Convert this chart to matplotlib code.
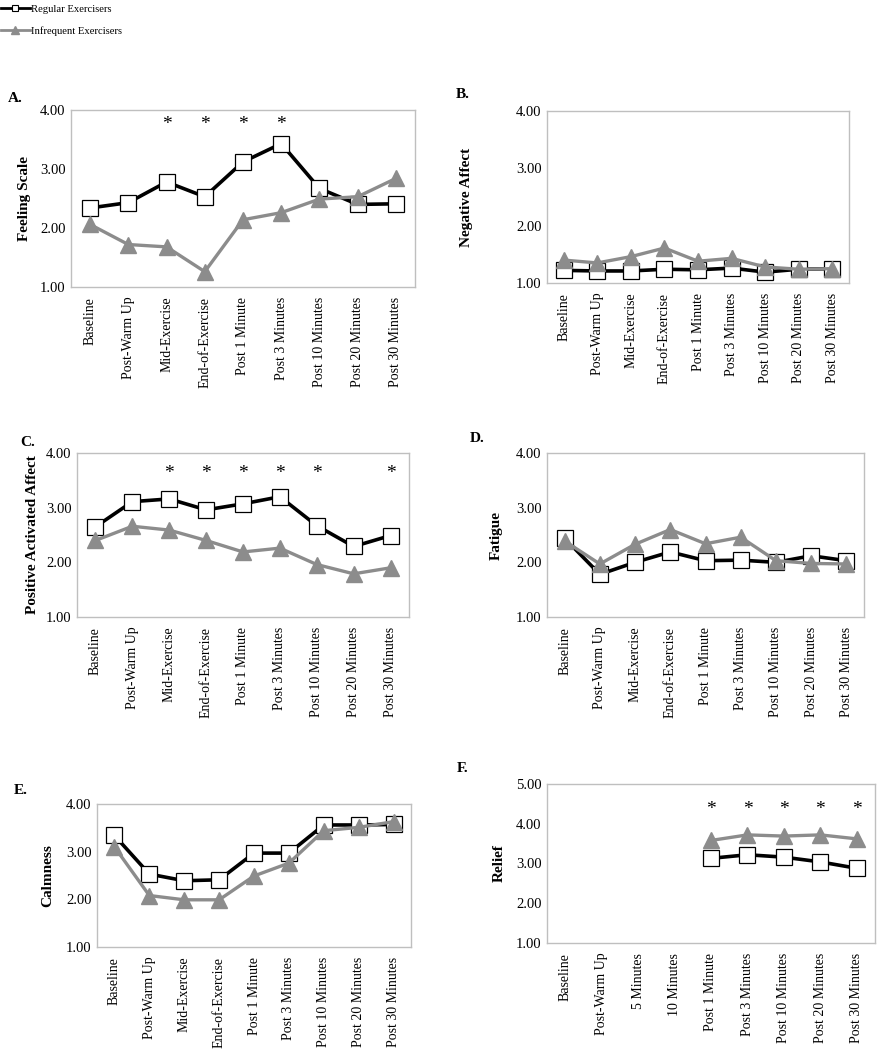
import matplotlib
matplotlib.use("Agg")
import matplotlib.pyplot as plt
from matplotlib.lines import Line2D

plt.rcParams['font.family'] = ['Liberation Serif', 'DejaVu Serif']

# time points
times = ['Baseline', 'Post-Warm Up', 'Mid-Exercise', 'End-of-Exercise',
         'Post 1 Minute', 'Post 3 Minutes', 'Post 10 Minutes',
         'Post 20 Minutes', 'Post 30 Minutes']
times_relief = ['Baseline', 'Post-Warm Up', '5 Minutes', '10 Minutes',
                'Post 1 Minute', 'Post 3 Minutes', 'Post 10 Minutes',
                'Post 20 Minutes', 'Post 30 Minutes']

# A. Feeling Scale
fs_reg = [2.34, 2.43, 2.78, 2.53, 3.12, 3.43, 2.67, 2.40, 2.41]
fs_inf = [2.06, 1.72, 1.68, 1.26, 2.14, 2.26, 2.49, 2.53, 2.84]
fs_sig = [2, 3, 4, 5]

# B. Negative Affect
na_reg = [1.22, 1.21, 1.21, 1.24, 1.23, 1.26, 1.19, 1.24, 1.25]
na_inf = [1.40, 1.35, 1.46, 1.61, 1.38, 1.43, 1.28, 1.24, 1.25]
na_sig = []

# C. Positive Activated Affect
paa_reg = [2.65, 3.11, 3.16, 2.96, 3.07, 3.20, 2.67, 2.29, 2.49]
paa_inf = [2.40, 2.66, 2.59, 2.40, 2.19, 2.26, 1.96, 1.79, 1.90]
paa_sig = [2, 3, 4, 5, 6, 8]

# D. Fatigue
fat_reg = [2.44, 1.78, 2.00, 2.19, 2.03, 2.04, 2.00, 2.12, 2.03]
fat_inf = [2.39, 1.97, 2.33, 2.60, 2.34, 2.46, 2.03, 1.98, 1.97]
fat_sig = []

# E. Calmness
calm_reg = [3.34, 2.53, 2.39, 2.41, 2.97, 2.97, 3.56, 3.56, 3.57]
calm_inf = [3.10, 2.08, 1.99, 1.99, 2.49, 2.76, 3.44, 3.51, 3.63]
calm_sig = []

# F. Relief (only measured after exercise)
rel_idx = [4, 5, 6, 7, 8]
rel_reg = [3.13, 3.22, 3.16, 3.04, 2.88]
rel_inf = [3.58, 3.72, 3.69, 3.72, 3.62]
rel_sig = [4, 5, 6, 7, 8]

W, H = 883, 1050
fig = plt.figure(figsize=(W / 100, H / 100), dpi=100)

BLACK = '#000000'
GRAY = '#8c8c8c'


def px_axes(x0, y0, x1, y1):
    return fig.add_axes([x0 / W, 1 - y1 / H, (x1 - x0) / W, (y1 - y0) / H])


def panel(rect, letter, letter_xy, ylabel, ylab_x, labels, xs, reg, inf,
          sig, ymax=4, sig_y=3.75):
    ax = px_axes(*rect)
    ax.plot(xs, reg, color=BLACK, lw=2.6, marker='s', ms=11,
            mfc='white', mec=BLACK, mew=0.9, zorder=3)
    ax.plot(xs, inf, color=GRAY, lw=2.4, marker='^', ms=12,
            mfc=GRAY, mec=GRAY, zorder=4)
    for i in sig:
        ax.text(i, sig_y, '*', ha='center', va='center', fontsize=14)
    ax.set_xlim(-0.5, len(labels) - 0.5)
    ax.set_ylim(1, ymax)
    ax.set_yticks(range(1, ymax + 1))
    ax.set_yticklabels(['%.2f' % v for v in range(1, ymax + 1)], fontsize=10.5)
    ax.set_xticks(range(len(labels)))
    ax.set_xticklabels(labels, rotation=90, fontsize=10)
    ax.tick_params(length=0, pad=4)
    ax.tick_params(axis='x', pad=7)
    for s in ax.spines.values():
        s.set_color('#bfbfbf')
        s.set_linewidth(1.0)
    ax.set_ylabel(ylabel, fontsize=11, fontweight='bold')
    ax.yaxis.set_label_coords((ylab_x - rect[0]) / (rect[2] - rect[0]), 0.5)
    fig.text(letter_xy[0] / W, 1 - letter_xy[1] / H, letter, fontsize=11,
             fontweight='bold', ha='left', va='center')
    return ax


idx = list(range(len(times)))
panel((71, 110, 415, 287), 'A.', (8, 98), 'Feeling Scale', 31,
      times, idx, fs_reg, fs_inf, fs_sig, sig_y=3.76)
panel((547, 111, 849, 283), 'B.', (456, 95), 'Negative Affect', 473,
      times, idx, na_reg, na_inf, na_sig)
panel((77, 453, 409, 617), 'C.', (20, 442), 'Positive Activated Affect', 39,
      times, idx, paa_reg, paa_inf, paa_sig, sig_y=3.63)
panel((547, 453, 864, 617), 'D.', (470, 438), 'Fatigue', 503,
      times, idx, fat_reg, fat_inf, fat_sig)
panel((97, 804, 411, 947), 'E.', (14, 790), 'Calmness', 54,
      times, idx, calm_reg, calm_inf, calm_sig)
panel((547, 784, 875, 943), 'F.', (457, 768), 'Relief', 506,
      times_relief, rel_idx, rel_reg, rel_inf, rel_sig, ymax=5, sig_y=4.36)

handles = [
    Line2D([], [], color=BLACK, lw=2, marker='s', ms=5, mfc='white',
           mec=BLACK, mew=0.8),
    Line2D([], [], color=GRAY, lw=2, marker='^', ms=6, mfc=GRAY, mec=GRAY),
]
fig.legend(handles, ['Regular Exercisers', 'Infrequent Exercisers'],
           loc='upper left', bbox_to_anchor=(-0.004, 1.0), frameon=False,
           fontsize=7.7, handlelength=2.7, handletextpad=0.1,
           labelspacing=1.15, borderaxespad=0.0)

fig.savefig('out.png', dpi=100)
